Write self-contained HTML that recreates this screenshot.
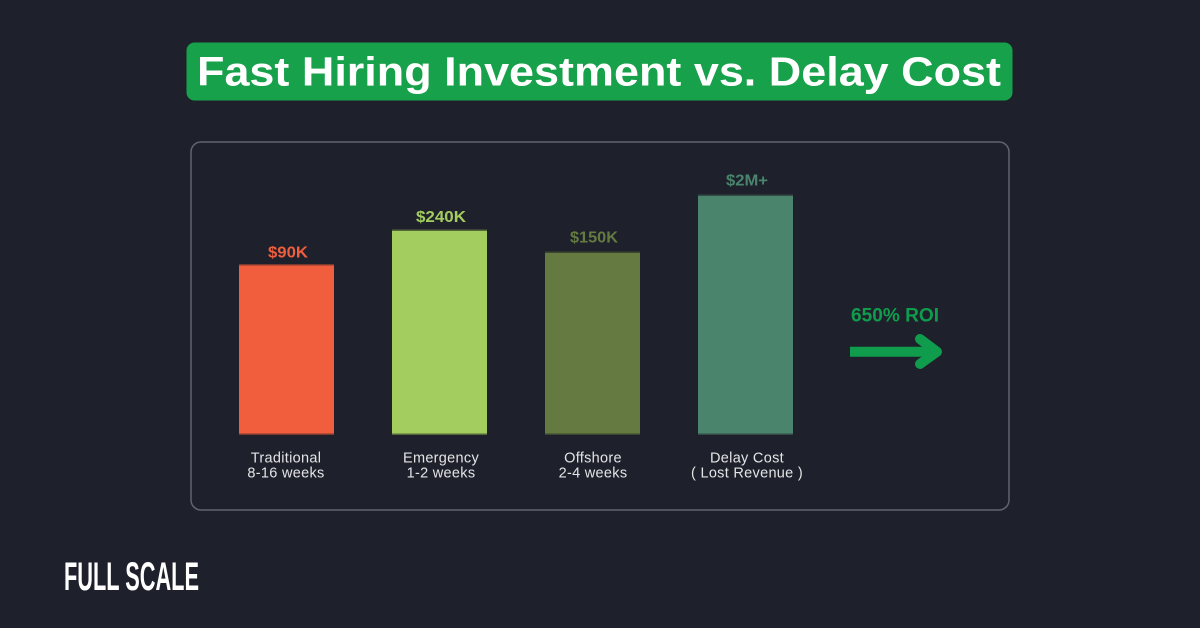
<!DOCTYPE html>
<html>
<head>
<meta charset="utf-8">
<style>
  html, body { margin:0; padding:0; background:#1e212b; }
  body { width:1200px; height:628px; overflow:hidden; }
  svg { display:block; }
  text { font-family: "Liberation Sans", "DejaVu Sans", sans-serif; }
</style>
</head>
<body>
<svg width="1200" height="628" viewBox="0 0 1200 628" xmlns="http://www.w3.org/2000/svg">
  <rect x="0" y="0" width="1200" height="628" fill="#1e212b"/>

  <!-- Title -->
  <rect x="186.5" y="42.5" width="826" height="58" rx="8" ry="8" fill="#18a14b"/>
  <text x="197" y="85.5" font-size="41" font-weight="bold" fill="#ffffff" textLength="804" lengthAdjust="spacingAndGlyphs">Fast Hiring Investment vs. Delay Cost</text>

  <!-- Panel -->
  <rect x="191" y="142" width="818" height="368" rx="10" ry="10" fill="none" stroke="#60646d" stroke-width="1.5"/>

  <!-- Bars -->
  <rect x="239" y="264" width="95" height="171" fill="#f15e3e"/>
  <rect x="239" y="264" width="95" height="1.5" fill="#7a3a2e"/>
  <rect x="392" y="229.5" width="95" height="205.5" fill="#a3cd5e"/>
  <rect x="392" y="229.5" width="95" height="1.5" fill="#55683a"/>
  <rect x="545" y="251.5" width="95" height="183.5" fill="#657a41"/>
  <rect x="545" y="251.5" width="95" height="1.5" fill="#3b4630"/>
  <rect x="698" y="194.5" width="95" height="240.5" fill="#4a846c"/>
  <rect x="698" y="194.5" width="95" height="1.5" fill="#344a44"/>
  <rect x="239" y="433.5" width="95" height="1.5" fill="#7a3a2e"/>
  <rect x="392" y="433.5" width="95" height="1.5" fill="#55683a"/>
  <rect x="545" y="433.5" width="95" height="1.5" fill="#3b4630"/>
  <rect x="698" y="433.5" width="95" height="1.5" fill="#344a44"/>

  <!-- Value labels -->
  <text x="288" y="257.3" font-size="16" font-weight="bold" fill="#f15e3e" text-anchor="middle" textLength="40" lengthAdjust="spacingAndGlyphs">$90K</text>
  <text x="441" y="222" font-size="16" font-weight="bold" fill="#a3cd5e" text-anchor="middle" textLength="50" lengthAdjust="spacingAndGlyphs">$240K</text>
  <text x="594" y="242.5" font-size="16" font-weight="bold" fill="#657a41" text-anchor="middle" textLength="48" lengthAdjust="spacingAndGlyphs">$150K</text>
  <text x="747" y="185.7" font-size="16" font-weight="bold" fill="#4a846c" text-anchor="middle" textLength="42" lengthAdjust="spacingAndGlyphs">$2M+</text>

  <!-- Category labels -->
  <g font-size="14.5" fill="#e4e4e6" text-anchor="middle" letter-spacing="0.3">
    <text x="286" y="462.3">Traditional</text>
    <text x="286" y="477.7">8-16 weeks</text>
    <text x="441" y="462.3">Emergency</text>
    <text x="441" y="477.7">1-2 weeks</text>
    <text x="593" y="462.3">Offshore</text>
    <text x="593" y="477.7">2-4 weeks</text>
    <text x="747" y="462.3">Delay Cost</text>
    <text x="747" y="477.7">( Lost Revenue )</text>
  </g>

  <!-- ROI -->
  <text x="851" y="321.7" font-size="19.5" font-weight="bold" fill="#0f9c4c" textLength="88" lengthAdjust="spacingAndGlyphs">650% ROI</text>
  <line x1="850" y1="351.7" x2="934" y2="351.7" stroke="#0f9c4c" stroke-width="10"/>
  <polyline points="920,339 937,351.7 920,364" fill="none" stroke="#0f9c4c" stroke-width="10" stroke-linecap="round" stroke-linejoin="round"/>

  <!-- Logo -->
  <text x="64" y="590" font-size="40" font-weight="bold" fill="#ffffff" textLength="135" lengthAdjust="spacingAndGlyphs">FULL SCALE</text>
</svg>
</body>
</html>
